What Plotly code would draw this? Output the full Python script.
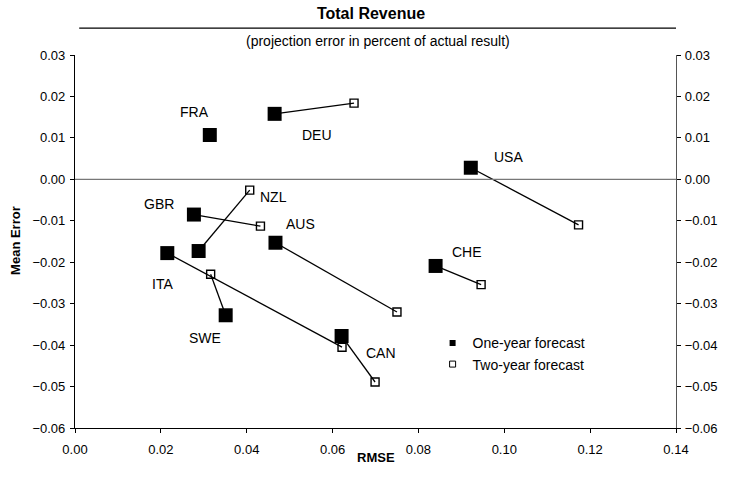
import plotly.graph_objects as go

# Forecast accuracy of total revenue projections by country
countries = ["FRA", "DEU", "GBR", "NZL", "AUS", "ITA", "SWE", "CAN", "USA", "CHE"]
rmse_one_year = [0.0314, 0.0465, 0.0277, 0.0288, 0.0467, 0.0215, 0.0351, 0.0621, 0.0922, 0.0840]
error_one_year = [0.0107, 0.0158, -0.0085, -0.0173, -0.0153, -0.0178, -0.0328, -0.0378, 0.0028, -0.0209]
rmse_two_year = [None, 0.0650, 0.0432, 0.0407, 0.0750, 0.0622, 0.0316, 0.0699, 0.1173, 0.0946]
error_two_year = [None, 0.0184, -0.0113, -0.0026, -0.0320, -0.0405, -0.0229, -0.0489, -0.0110, -0.0254]

x_ticks = [0.00, 0.02, 0.04, 0.06, 0.08, 0.10, 0.12, 0.14]
y_ticks = [0.03, 0.02, 0.01, 0.00, -0.01, -0.02, -0.03, -0.04, -0.05, -0.06]

# pixel offsets of each country label from its one-year marker
label_offsets = {
    "FRA": (-15, 23), "DEU": (42, -21), "GBR": (-35, 11), "NZL": (75, 54),
    "AUS": (25, 19), "ITA": (-5, -31), "SWE": (-21, -23), "CAN": (39, -17),
    "USA": (38, 11), "CHE": (31, 14),
}

FONT = "Liberation Sans, Arial, sans-serif"

fig = go.Figure()

# connector from one-year to two-year result
for c, x1, y1, x2, y2 in zip(countries, rmse_one_year, error_one_year, rmse_two_year, error_two_year):
    if x2 is None:
        continue
    fig.add_trace(go.Scatter(x=[x1, x2], y=[y1, y2], mode="lines",
                             line=dict(color="black", width=1.3),
                             showlegend=False, hoverinfo="skip"))

fig.add_trace(go.Scatter(x=rmse_two_year, y=error_two_year, mode="markers",
                         marker=dict(symbol="square-open", size=8, color="black",
                                     line=dict(width=1.4)),
                         showlegend=False, name="Two-year forecast"))
fig.add_trace(go.Scatter(x=rmse_one_year, y=error_one_year, mode="markers",
                         marker=dict(symbol="square", size=14, color="black"),
                         showlegend=False, name="One-year forecast"))

# legend entries with small swatches
fig.add_trace(go.Scatter(x=[None], y=[None], mode="markers", name="One-year forecast",
                         marker=dict(symbol="square", size=6, color="black")))
fig.add_trace(go.Scatter(x=[None], y=[None], mode="markers", name="Two-year forecast",
                         marker=dict(symbol="square-open", size=6, color="black",
                                     line=dict(width=1))))

# right-hand duplicate of the value axis
fig.add_trace(go.Scatter(x=[None], y=[None], yaxis="y2", showlegend=False, hoverinfo="skip"))

for c, x1, y1 in zip(countries, rmse_one_year, error_one_year):
    dx, dy = label_offsets[c]
    fig.add_annotation(x=x1, y=y1, text=c, showarrow=False, xshift=dx, yshift=dy,
                       xanchor="center", yanchor="middle",
                       font=dict(size=14, color="black", family=FONT))

fig.add_annotation(xref="paper", yref="paper", x=0.504, y=1.0375,
                   text="(projection error in percent of actual result)",
                   xanchor="center", yanchor="middle", showarrow=False,
                   font=dict(size=14, color="black", family=FONT))
fig.add_annotation(xref="paper", yref="paper", x=-0.1, y=0.504, text="<b>Mean Error</b>", textangle=-90,
                   xanchor="center", yanchor="middle", showarrow=False,
                   font=dict(size=13, color="black", family=FONT))
fig.add_annotation(xref="paper", yref="paper", x=0.501, y=-0.08, text="<b>RMSE</b>",
                   xanchor="center", yanchor="middle", showarrow=False,
                   font=dict(size=13, color="black", family=FONT))

fig.add_shape(type="line", xref="paper", yref="paper", x0=0.007, x1=1.0, y0=1.072, y1=1.072,
              line=dict(color="black", width=1.2))
fig.add_shape(type="line", xref="paper", yref="y", x0=0, x1=1, y0=0, y1=0,
              line=dict(color="#777777", width=1.2))

axis_common = dict(showgrid=False, zeroline=False, showline=True, linewidth=1.2,
                   ticks="outside", ticklen=4, tickwidth=1, tickcolor="black",
                   tickfont=dict(size=13, color="black", family=FONT))

fig.update_layout(
    width=730, height=485,
    margin=dict(l=75, r=44, t=55, b=57),
    paper_bgcolor="white", plot_bgcolor="white",
    font=dict(family=FONT, color="black"),
    title=dict(text="<b>Total Revenue</b>", x=371 / 730, xanchor="center", y=1 - 13 / 485, yanchor="middle",
               font=dict(size=16, color="black", family=FONT)),
    xaxis=dict(range=[0, 0.14], tickvals=x_ticks, tickformat=".2f", linecolor="black",
               ticklabelstandoff=5, **axis_common),
    yaxis=dict(range=[-0.06, 0.03], tickvals=y_ticks, tickformat=".2f", linecolor="black",
               ticklabelstandoff=2, **axis_common),
    yaxis2=dict(range=[-0.06, 0.03], tickvals=y_ticks, tickformat=".2f", overlaying="y", side="right",
                linecolor="#555555", ticklabelstandoff=1, **axis_common),
    legend=dict(x=0.595, y=0.27, xanchor="left", yanchor="top", bgcolor="rgba(0,0,0,0)",
                font=dict(size=14, color="black", family=FONT), tracegroupgap=0),
    showlegend=True,
)

fig.write_html("out.html")
